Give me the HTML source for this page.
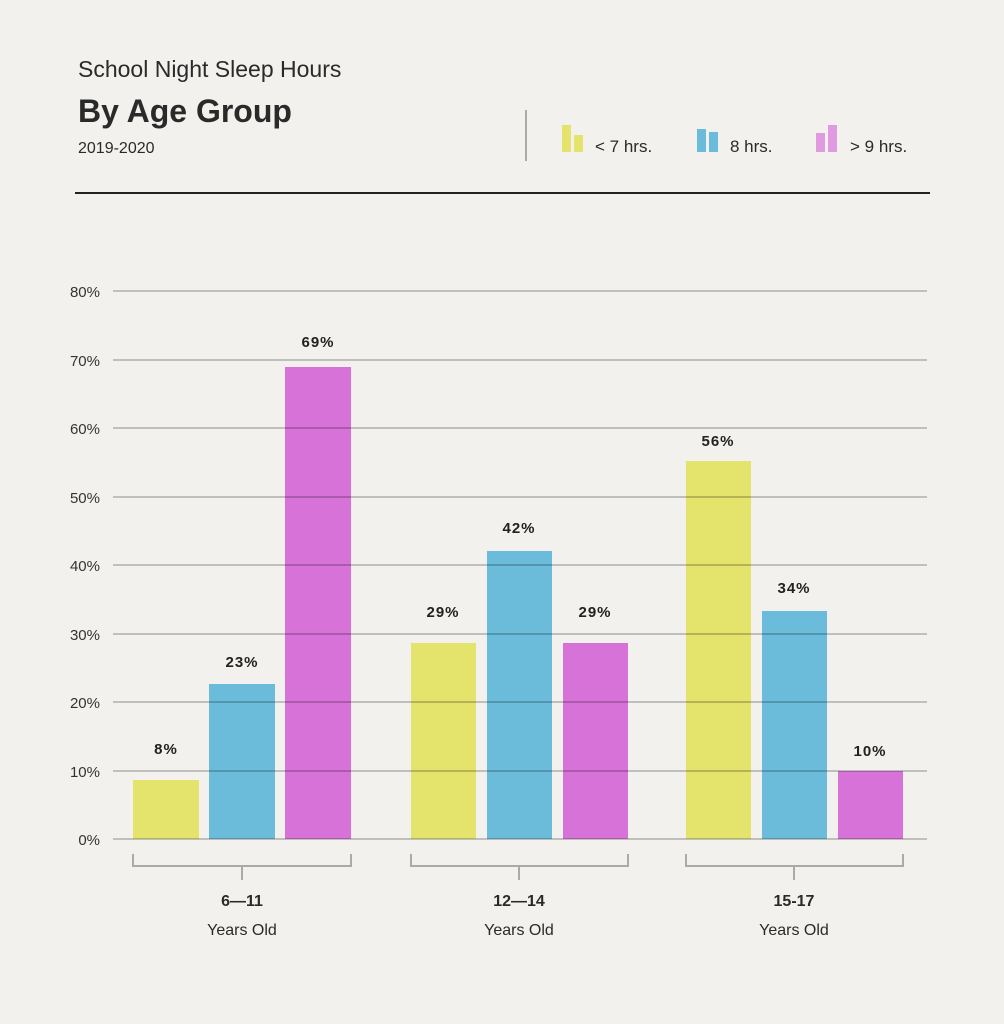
<!DOCTYPE html>
<html><head><style>
body{margin:0;background:#f2f1ed;}
svg{display:block;font-family:"Liberation Sans",sans-serif;}
</style></head><body>
<svg width="1004" height="1024" viewBox="0 0 1004 1024">
<rect width="1004" height="1024" fill="#f2f1ed"/>
<text x="78" y="77" font-size="23" fill="#2a2a2a">School Night Sleep Hours</text>
<text x="78" y="122" font-size="32" font-weight="bold" fill="#2a2a2a">By Age Group</text>
<text x="78" y="153" font-size="16" fill="#2a2a2a">2019-2020</text>
<line x1="526" y1="110" x2="526" y2="161" stroke="#aaa" stroke-width="2"/>
<rect x="562" y="125" width="9" height="27" fill="#e4e46c"/><rect x="574" y="135" width="9" height="17" fill="#e4e46c"/>
<text x="595" y="152" font-size="17" fill="#2a2a2a">&lt; 7 hrs.</text>
<rect x="697" y="129" width="9" height="23" fill="#6bbbda"/><rect x="709" y="132" width="9" height="20" fill="#6bbbda"/>
<text x="730" y="152" font-size="17" fill="#2a2a2a">8 hrs.</text>
<rect x="816" y="133" width="9" height="19" fill="#e09be0"/><rect x="828" y="125" width="9" height="27" fill="#e09be0"/>
<text x="850" y="152" font-size="17" fill="#2a2a2a">&gt; 9 hrs.</text>
<line x1="75" y1="193" x2="930" y2="193" stroke="#222" stroke-width="2"/>
<g fill="#e4e46c"><rect x="133" y="780" width="66" height="59"/><rect x="411" y="643" width="65" height="196"/><rect x="686" y="461" width="65" height="378"/></g>
<g fill="#6bbbda"><rect x="209" y="684" width="66" height="155"/><rect x="487" y="551" width="65" height="288"/><rect x="762" y="611" width="65" height="228"/></g>
<g fill="#d672d8"><rect x="285" y="367" width="66" height="472"/><rect x="563" y="643" width="65" height="196"/><rect x="838" y="771" width="65" height="68"/></g>
<g stroke="#000" stroke-opacity="0.28" stroke-width="1.5">
<line x1="113" y1="839" x2="927" y2="839"/><line x1="113" y1="771" x2="927" y2="771"/><line x1="113" y1="702" x2="927" y2="702"/><line x1="113" y1="634" x2="927" y2="634"/><line x1="113" y1="565" x2="927" y2="565"/><line x1="113" y1="497" x2="927" y2="497"/><line x1="113" y1="428" x2="927" y2="428"/><line x1="113" y1="360" x2="927" y2="360"/><line x1="113" y1="291" x2="927" y2="291"/>
</g>
<g font-size="15" fill="#333" text-anchor="end">
<text x="100" y="845">0%</text><text x="100" y="777">10%</text><text x="100" y="708">20%</text><text x="100" y="640">30%</text><text x="100" y="571">40%</text><text x="100" y="503">50%</text><text x="100" y="434">60%</text><text x="100" y="366">70%</text><text x="100" y="297">80%</text>
</g>
<g font-size="15" font-weight="bold" fill="#222" text-anchor="middle" letter-spacing="1">
<text x="166" y="754">8%</text><text x="242" y="667">23%</text><text x="318" y="347">69%</text>
<text x="443" y="617">29%</text><text x="519" y="533">42%</text><text x="595" y="617">29%</text>
<text x="718" y="446">56%</text><text x="794" y="593">34%</text><text x="870" y="756">10%</text>
</g>
<g stroke="#aaa" stroke-width="2" fill="none">
<path d="M133 854V866H351V854M242 866V880"/>
<path d="M411 854V866H628V854M519 866V880"/>
<path d="M686 854V866H903V854M794 866V880"/>
</g>
<g text-anchor="middle" fill="#2a2a2a">
<text x="242" y="906" font-size="16" font-weight="bold">6—11</text><text x="242" y="935" font-size="16">Years Old</text>
<text x="519" y="906" font-size="16" font-weight="bold">12—14</text><text x="519" y="935" font-size="16">Years Old</text>
<text x="794" y="906" font-size="16" font-weight="bold">15-17</text><text x="794" y="935" font-size="16">Years Old</text>
</g>
</svg>
</body></html>
